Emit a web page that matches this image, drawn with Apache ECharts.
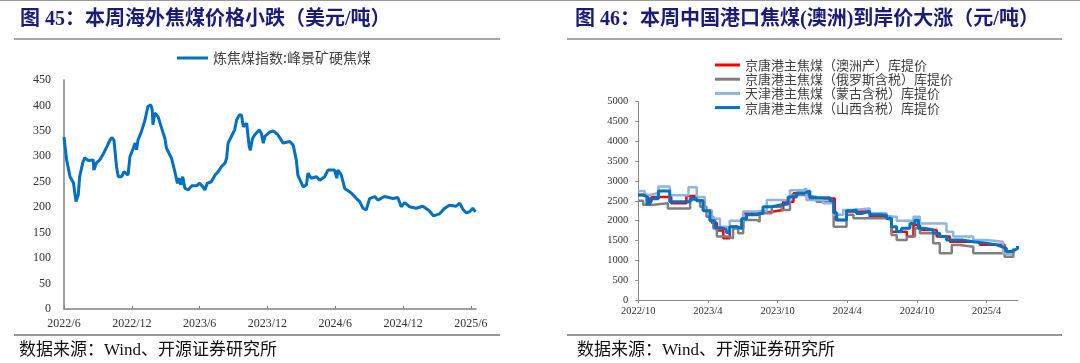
<!DOCTYPE html>
<html><head><meta charset="utf-8">
<script src="https://cdn.jsdelivr.net/npm/echarts@6/dist/echarts.min.js"></script>
<style>html,body{margin:0;padding:0;background:#fff}#c{width:1080px;height:363px}</style>
</head><body><div id="c"></div>
<script>
// ---------- texts ----------
const leftTitle = '图 45：本周海外焦煤价格小跌（美元/吨）';
const rightTitle = '图 46：本周中国港口焦煤(澳洲)到岸价大涨（元/吨）';
const sourceText = '数据来源：Wind、开源证券研究所';
const leftSeriesName = '炼焦煤指数:峰景矿硬焦煤';
const rightSeriesNames = ['京唐港主焦煤（澳洲产）库提价','京唐港主焦煤（俄罗斯含税）库提价','天津港主焦煤（蒙古含税）库提价','京唐港主焦煤（山西含税）库提价'];

// ---------- left chart data (USD/t) ----------
const leftTickLabels = ['2022/6','2022/12','2023/6','2023/12','2024/6','2024/12','2025/6'];
const leftDates = ['2022-06-01','2022-06-08','2022-06-17','2022-06-26','2022-07-03','2022-07-09','2022-07-13','2022-07-22','2022-07-27','2022-08-05','2022-08-19','2022-08-21','2022-08-28','2022-09-06','2022-09-14','2022-09-25','2022-10-03','2022-10-08','2022-10-14','2022-10-21','2022-10-26','2022-11-04','2022-11-10','2022-11-21','2022-11-26','2022-12-05','2022-12-10','2022-12-14','2022-12-18','2022-12-27','2023-01-06','2023-01-14','2023-01-22','2023-01-26','2023-01-28','2023-02-02','2023-02-10','2023-02-19','2023-02-27','2023-03-03','2023-03-17','2023-03-26','2023-04-02','2023-04-06','2023-04-11','2023-04-16','2023-04-22','2023-05-01','2023-05-10','2023-05-23','2023-06-01','2023-06-10','2023-06-15','2023-06-21','2023-07-02','2023-07-12','2023-07-21','2023-07-30','2023-08-08','2023-08-13','2023-08-17','2023-08-26','2023-09-04','2023-09-09','2023-09-16','2023-09-22','2023-09-27','2023-10-06','2023-10-10','2023-10-13','2023-10-16','2023-10-22','2023-10-28','2023-11-02','2023-11-09','2023-11-15','2023-11-20','2023-11-24','2023-12-08','2023-12-17','2023-12-30','2024-01-04','2024-01-13','2024-01-31','2024-02-09','2024-02-17','2024-02-21','2024-02-26','2024-03-06','2024-03-15','2024-03-19','2024-03-28','2024-04-11','2024-04-20','2024-05-03','2024-05-12','2024-05-30','2024-06-05','2024-06-08','2024-06-17','2024-06-26','2024-07-10','2024-07-19','2024-07-28','2024-08-06','2024-08-15','2024-08-24','2024-09-02','2024-09-16','2024-09-24','2024-10-12','2024-11-04','2024-11-17','2024-11-26','2024-12-05','2024-12-19','2025-01-06','2025-01-24','2025-02-10','2025-02-20','2025-03-08','2025-03-22','2025-04-04','2025-04-22','2025-05-01','2025-05-10','2025-05-19','2025-05-28','2025-06-06','2025-06-13'];
const leftValues = [338,293,260,248,211,224,260,289,297,292,293,273,287,293,303,319,332,337,332,280,260,260,270,263,299,316,326,313,332,348,371,398,401,391,362,385,378,355,335,316,296,270,247,257,244,260,237,234,242,242,247,240,234,247,250,263,270,280,286,296,326,339,352,371,381,381,358,365,365,319,312,335,342,342,352,345,326,339,348,350,342,339,326,329,322,293,263,260,240,244,267,257,260,253,260,273,273,257,273,263,237,230,224,217,211,198,195,217,221,214,221,217,219,201,209,201,198,202,193,183,187,198,204,202,208,196,189,191,198,191];

// ---------- right chart data (CNY/t) ----------
const rightTickLabels = ['2022/10','2023/4','2023/10','2024/4','2024/10','2025/4'];
const ausDates = ['2022-10-01','2022-10-27','2022-11-05','2022-12-27','2023-02-05','2023-03-02','2023-03-23','2023-04-11','2023-04-24','2023-05-11','2023-05-28','2023-06-15','2023-07-02','2023-08-24','2023-09-20','2023-10-16','2023-11-12','2023-12-07','2023-12-25','2024-02-28','2024-03-30','2024-05-30','2024-07-26','2024-09-05','2024-09-22','2024-10-09','2024-11-22','2024-12-27','2025-03-14','2025-05-18','2025-06-10'];
const ausValues = [2650,2480,2600,2440,2620,2500,2250,1950,1750,1555,1850,1800,2185,2230,2270,2480,2690,2650,2560,2020,2230,2100,1720,1600,1890,1765,1600,1470,1390,1180,1300];
const rusDates = ['2022-10-01','2022-10-14','2022-11-10','2022-12-18','2023-02-14','2023-03-11','2023-03-28','2023-04-15','2023-04-24','2023-05-24','2023-06-06','2023-06-19','2023-07-02','2023-08-07','2023-08-15','2023-09-16','2023-10-12','2023-11-03','2023-12-07','2024-01-12','2024-02-25','2024-03-30','2024-04-17','2024-07-13','2024-07-26','2024-08-09','2024-09-05','2024-09-26','2024-10-09','2024-11-13','2024-11-30','2025-01-01','2025-01-22','2025-02-25','2025-05-18','2025-06-10'];
const rusValues = [2500,2400,2440,2310,2520,2350,2100,1800,1600,1555,1800,1680,2017,1975,2185,2350,2270,2650,2600,2480,1850,2150,2060,2017,1640,1513,1600,1807,1681,1430,1177,1387,1345,1177,1093,1260];
const mngDates = ['2022-10-01','2022-10-18','2022-11-01','2022-11-23','2022-12-23','2023-02-10','2023-03-02','2023-03-23','2023-04-11','2023-05-02','2023-05-19','2023-05-28','2023-06-19','2023-07-02','2023-08-07','2023-09-03','2023-10-12','2023-11-03','2023-12-07','2023-12-16','2024-01-29','2024-02-25','2024-03-21','2024-04-17','2024-05-30','2024-07-13','2024-08-09','2024-09-22','2024-10-09','2024-12-18','2025-01-05','2025-02-25','2025-04-01','2025-05-14','2025-06-06','2025-06-14'];
const mngValues = [2750,2650,2700,2860,2640,2840,2600,2250,2050,1850,1800,2000,2000,2230,2250,2520,2500,2770,2810,2520,2440,2150,2270,2310,2185,2100,2000,2100,1930,1720,1600,1510,1470,1180,1250,1300];
const sxDates = ['2022-10-01','2022-10-14','2022-10-24','2022-11-01','2022-11-23','2022-12-23','2023-02-14','2023-03-02','2023-03-19','2023-04-06','2023-04-19','2023-05-06','2023-05-19','2023-05-28','2023-06-15','2023-06-28','2023-07-11','2023-08-07','2023-08-24','2023-09-16','2023-10-12','2023-10-29','2023-11-20','2023-12-12','2023-12-25','2024-02-16','2024-02-25','2024-03-04','2024-03-21','2024-03-30','2024-04-12','2024-04-25','2024-05-08','2024-05-30','2024-06-26','2024-07-13','2024-07-26','2024-08-09','2024-08-22','2024-09-13','2024-09-26','2024-10-05','2024-10-18','2024-11-13','2024-11-30','2024-12-18','2025-01-31','2025-02-25','2025-04-01','2025-04-27','2025-05-10','2025-05-23','2025-06-06','2025-06-14','2025-06-21'];
const sxValues = [2650,2600,2420,2550,2750,2480,2560,2500,2250,2000,1820,1780,1700,1850,1800,2050,2150,2200,2350,2400,2420,2600,2700,2750,2580,2500,2200,2020,2020,2250,2270,2180,2230,2150,2140,2060,1850,1720,1810,1930,2020,1810,1770,1680,1600,1510,1470,1430,1390,1345,1300,1220,1260,1300,1360];

// months elapsed since a base month (axis is measured in months)
function monthsFrom(baseY, baseM, s) {
  const [y, m, d] = s.split('-').map(Number);
  const dim = new Date(y, m, 0).getDate();
  return (y - baseY) * 12 + (m - baseM) + (d - 1) / dim;
}
function pairs(baseY, baseM, dates, vals) {
  return dates.map((d, i) => [monthsFrom(baseY, baseM, d), vals[i]]);
}

const serifCJK = '"Liberation Serif", "Times New Roman", "Noto Sans CJK SC", serif';
const sansCJK = '"Noto Sans CJK SC", sans-serif';
const titleColor = '#1B1B78';

const chart = echarts.init(document.getElementById('c'), null, {renderer: 'canvas'});
const leftTicks = leftTickLabels.map((_, i) => i * 6);
const rightTicks = rightTickLabels.map((_, i) => i * 6);

const option = {
  animation: false,
  backgroundColor: '#fff',
  title: [
    {text: leftTitle, left: 15, top: 5, textStyle: {fontFamily: serifCJK, fontWeight: 'bold', fontSize: 20, color: titleColor}},
    {text: rightTitle, left: 570, top: 5, textStyle: {fontFamily: serifCJK, fontWeight: 'bold', fontSize: 20, color: titleColor}},
    {text: sourceText, left: 14, top: 337, textStyle: {fontFamily: serifCJK, fontWeight: 'normal', fontSize: 17, color: '#111'}},
    {text: sourceText, left: 572, top: 337, textStyle: {fontFamily: serifCJK, fontWeight: 'normal', fontSize: 17, color: '#111'}}
  ],
  graphic: [
    {type: 'line', shape: {x1: 0, y1: 0.5, x2: 1080, y2: 0.5}, style: {stroke: '#9a9a9a', lineWidth: 1}},
    {type: 'line', shape: {x1: 14, y1: 39, x2: 500, y2: 39}, style: {stroke: '#8a8a8a', lineWidth: 1.5}},
    {type: 'line', shape: {x1: 567, y1: 39, x2: 1062, y2: 39}, style: {stroke: '#8a8a8a', lineWidth: 1.5}},
    {type: 'line', shape: {x1: 14, y1: 335, x2: 500, y2: 335}, style: {stroke: '#333', lineWidth: 1.2}},
    {type: 'line', shape: {x1: 567, y1: 335, x2: 1062, y2: 335}, style: {stroke: '#333', lineWidth: 1.2}}
  ],
  legend: [
    {data: [leftSeriesName], left: 172, top: 46, orient: 'horizontal', icon: 'rect', itemWidth: 31, itemHeight: 3,
     textStyle: {fontFamily: sansCJK, fontSize: 14, color: '#404040', lineHeight: 14}},
    {data: rightSeriesNames, left: 710, top: 53, orient: 'vertical', icon: 'rect', itemWidth: 25, itemHeight: 3, itemGap: 0.2,
     textStyle: {fontFamily: sansCJK, fontSize: 13, color: '#404040', lineHeight: 14}}
  ],
  grid: [
    {left: 64, top: 80, width: 412, height: 229},
    {left: 638.3, top: 101.7, width: 379.4, height: 198.3}
  ],
  xAxis: [
    {type: 'value', gridIndex: 0, min: 0, max: 36.45, interval: 6,
     axisLine: {show: true, lineStyle: {color: '#808080', width: 1.5}},
     axisTick: {show: true, inside: true, length: 3, customValues: leftTicks, lineStyle: {color: '#808080'}},
     axisLabel: {customValues: leftTicks, formatter: v => leftTickLabels[Math.round(v / 6)] || '', margin: 9,
                 fontFamily: serifCJK, fontSize: 12, color: '#333'},
     splitLine: {show: false}},
    {type: 'value', gridIndex: 1, min: 0, max: 32.68, interval: 6,
     axisLine: {show: true, lineStyle: {color: '#8a8a8a', width: 1}},
     axisTick: {show: true, inside: false, length: 3, customValues: rightTicks, lineStyle: {color: '#8a8a8a'}},
     axisLabel: {customValues: rightTicks, formatter: v => rightTickLabels[Math.round(v / 6)] || '', margin: 6,
                 fontFamily: serifCJK, fontSize: 10.5, color: '#333'},
     splitLine: {show: false}}
  ],
  yAxis: [
    {type: 'value', gridIndex: 0, min: 0, max: 450, interval: 50,
     axisLine: {show: true, lineStyle: {color: '#808080', width: 1.5}},
     axisTick: {show: false},
     axisLabel: {margin: 13, fontFamily: serifCJK, fontSize: 12, color: '#333', formatter: v => String(v)},
     splitLine: {show: false}},
    {type: 'value', gridIndex: 1, min: 0, max: 5000, interval: 500,
     axisLine: {show: true, lineStyle: {color: '#8a8a8a', width: 1}},
     axisTick: {show: true, inside: false, length: 3, lineStyle: {color: '#8a8a8a'}},
     axisLabel: {margin: 10, fontFamily: serifCJK, fontSize: 10.5, color: '#333', formatter: v => String(v)},
     splitLine: {show: false}}
  ],
  series: [
    {name: leftSeriesName, type: 'line', xAxisIndex: 0, yAxisIndex: 0, showSymbol: false,
     data: pairs(2022, 6, leftDates, leftValues), lineStyle: {color: '#0070C0', width: 3}, itemStyle: {color: '#0070C0'}},
    {name: rightSeriesNames[0], type: 'line', step: 'end', xAxisIndex: 1, yAxisIndex: 1, showSymbol: false,
     data: pairs(2022, 10, ausDates, ausValues), lineStyle: {color: '#FF0000', width: 2.5}, itemStyle: {color: '#FF0000'}},
    {name: rightSeriesNames[1], type: 'line', step: 'end', xAxisIndex: 1, yAxisIndex: 1, showSymbol: false,
     data: pairs(2022, 10, rusDates, rusValues), lineStyle: {color: '#808080', width: 2.5}, itemStyle: {color: '#808080'}},
    {name: rightSeriesNames[2], type: 'line', step: 'end', xAxisIndex: 1, yAxisIndex: 1, showSymbol: false,
     data: pairs(2022, 10, mngDates, mngValues), lineStyle: {color: '#8DB4E2', width: 2.5}, itemStyle: {color: '#8DB4E2'}},
    {name: rightSeriesNames[3], type: 'line', step: 'end', xAxisIndex: 1, yAxisIndex: 1, showSymbol: false,
     data: pairs(2022, 10, sxDates, sxValues), lineStyle: {color: '#0070C0', width: 3}, itemStyle: {color: '#0070C0'}}
  ]
};
chart.setOption(option);
</script>
</body></html>
